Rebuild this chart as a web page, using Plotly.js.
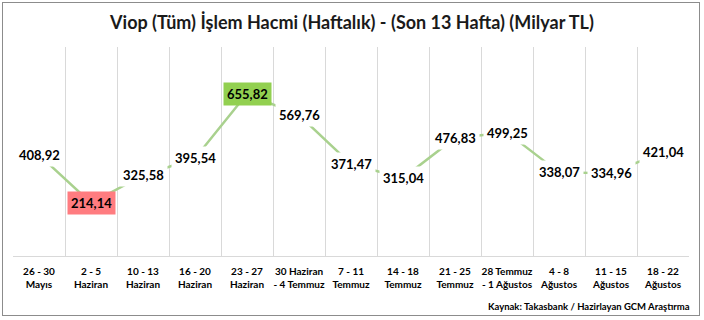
<!DOCTYPE html>
<html>
<head>
<meta charset="utf-8">
<script src="https://cdn.plot.ly/plotly-3.0.1.min.js"></script>
<style>
  html, body { margin: 0; padding: 0; background: #fff; }
  #wrap { position: relative; width: 704px; height: 320px; }
  #chart { width: 704px; height: 320px; }
  #frame { position: absolute; left: 2px; top: 2px; width: 696px; height: 312px; border: 1px solid #8c8c8c; pointer-events: none; }
</style>
</head>
<body>
<div id="wrap"><div id="chart"></div><div id="frame"></div></div>
<script>
const categories = [
  "26 - 30<br>Mayıs", "2 - 5<br>Haziran", "10 - 13<br>Haziran", "16 - 20<br>Haziran",
  "23 - 27<br>Haziran", "30 Haziran<br>- 4 Temmuz", "7 - 11<br>Temmuz", "14 - 18<br>Temmuz",
  "21 - 25<br>Temmuz", "28 Temmuz<br>- 1 Ağustos", "4 - 8<br>Ağustos", "11 - 15<br>Ağustos",
  "18 - 22<br>Ağustos"
];
const values = [408.92, 214.14, 325.58, 395.54, 655.82, 569.76, 371.47, 315.04, 476.83, 499.25, 338.07, 334.96, 421.04];
const titleText = "Viop (Tüm) İşlem Hacmi (Haftalık) - (Son 13 Hafta) (Milyar TL)";
const sourceText = "Kaynak: Takasbank / Hazirlayan GCM Araştırma";

const FONT = "Lato, 'Open Sans', sans-serif";
const minV = Math.min(...values), maxV = Math.max(...values);
const fmt = v => v.toFixed(2).replace(".", ",");

const annotations = values.map((v, i) => {
  let bg = "#ffffff";
  if (v === minV) bg = "#ff7c80";
  if (v === maxV) bg = "#92d050";
  return {
    x: categories[i], y: v, xref: "x", yref: "y",
    text: "<b>" + fmt(v) + "</b>", showarrow: false,
    bgcolor: bg, borderpad: 3,
    font: { family: FONT, size: 13, color: "#000" },
    xanchor: "center", yanchor: "middle"
  };
});
annotations.push({
  xref: "paper", yref: "paper", x: 1.005, y: -0.24,
  xanchor: "right", yanchor: "middle", showarrow: false,
  text: "<b>" + sourceText + "</b>",
  font: { family: FONT, size: 9.5, color: "#000" }
});

Plotly.newPlot("chart", [{
  x: categories, y: values, type: "scatter", mode: "lines",
  line: { color: "#a9d18e", width: 2.5 },
  hoverinfo: "skip"
}], {
  width: 704, height: 320,
  margin: { l: 13, r: 15, t: 47, b: 64 },
  paper_bgcolor: "#fff", plot_bgcolor: "#fff",
  showlegend: false,
  title: { text: "<b>" + titleText + "</b>", x: 0.5, xanchor: "center", y: 0.93, yanchor: "middle",
           font: { family: FONT, size: 18, color: "#1a1a1a" } },
  xaxis: {
    type: "category", tickson: "boundaries", showgrid: true, gridcolor: "#d9d9d9", gridwidth: 1,
    showline: true, linecolor: "#d9d9d9", linewidth: 1, ticks: "", ticklabelstandoff: 6,
    tickfont: { family: FONT, size: 10, color: "#000", weight: "bold" }, tickangle: 0,
    range: [-0.5, categories.length - 0.5], fixedrange: true
  },
  yaxis: {
    range: [0, 845], showgrid: false, zeroline: false, showticklabels: false, showline: false, fixedrange: true
  },
  annotations: annotations
}, { displayModeBar: false, staticPlot: true });
</script>
</body>
</html>
